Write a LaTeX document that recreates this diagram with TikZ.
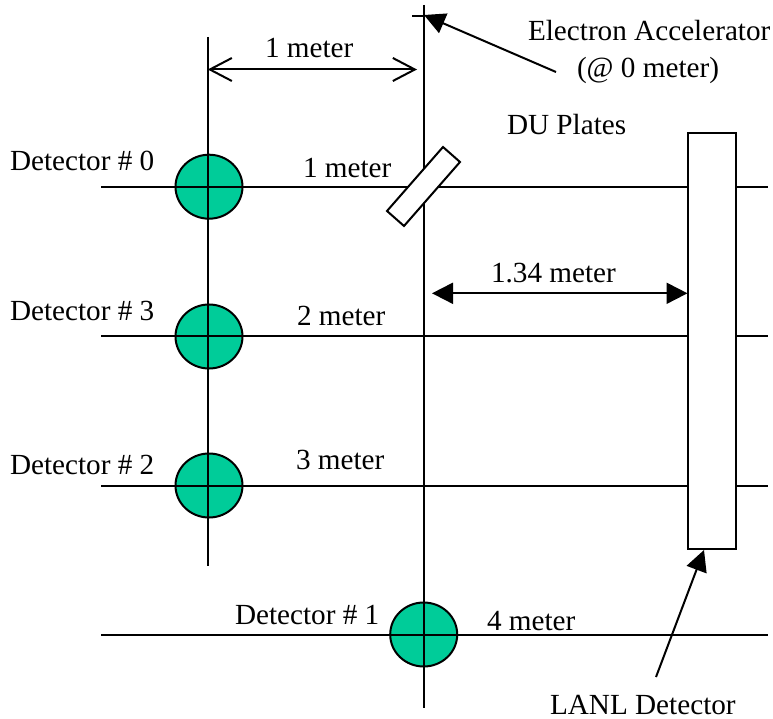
\documentclass[tikz,border=0pt]{standalone}
\usepackage{fontspec}
\setmainfont{Liberation Serif}
\usetikzlibrary{arrows.meta,shapes.geometric}
\definecolor{detgreen}{RGB}{0,204,153}
\tikzset{
  lab/.style={anchor=base west,inner sep=0pt,outer sep=0pt,font=\fontsize{29.2pt}{32pt}\selectfont},
  det/.style={ellipse,draw=black,fill=detgreen,minimum width=67pt,minimum height=64pt,inner sep=0pt},
  openarrow/.style={{Straight Barb[length=22pt,width=23pt,line width=2pt]}-{Straight Barb[length=22pt,width=23pt,line width=2pt]}},
  solidtip/.style={-{Triangle[length=21pt,width=21pt]}},
  soliddouble/.style={{Triangle[length=21pt,width=21pt]}-{Triangle[length=21pt,width=21pt]}}
}
\begin{document}
\begin{tikzpicture}[x=1pt,y=-1pt,line width=2pt]
\useasboundingbox (0,0) rectangle (773,719);
% detectors
\node[det] (d0) at (209,186.7) {};
\node[det] (d3) at (209,336.5) {};
\node[det] (d2) at (209,485.5) {};
\node[det] (d1) at (423.7,634.5) {};
% line ends
\coordinate (vlt) at (207.7,37);
\coordinate (vlb) at (207.7,566);
\coordinate (vct) at (424,5);
\coordinate (vcb) at (424,708);
\coordinate (tick) at (412,15.7);
\coordinate (tickend) at (424,15.7);
\foreach \n/\y in {a/186.7,b/335.8,c/485.5,d/634.9}{
  \coordinate (\n l) at (101,\y);
  \coordinate (\n r) at (768,\y);
  \draw (\n l) -- (\n r);
}
\draw (vlt) -- (vlb);
\draw (vct) -- (vcb);
\draw (tick) -- (tickend);
% LANL box
\node[draw=black,fill=white,minimum width=48pt,minimum height=416pt,inner sep=0pt] (lanl) at (712,341.3) {};
% DU plate
\coordinate (p1) at (443,147);
\coordinate (p2) at (460,162);
\coordinate (p3) at (404,226);
\coordinate (p4) at (387,211);
\draw[fill=white] (p1) -- (p2) -- (p3) -- (p4) -- cycle;
% dimension arrows
\coordinate (m1) at (207.7,69.5);
\coordinate (m2) at (417,69.5);
\draw[openarrow] (m1) -- (m2);
\coordinate (w1) at (432,293.3);
\coordinate (w2) at (687.5,293.3);
\draw[soliddouble] (w1) -- (w2);
% callouts
\coordinate (ea) at (556,72);
\coordinate (eat) at (424,15);
\draw[solidtip] (ea) -- (eat);
\coordinate (ld) at (656,677);
\coordinate (ldt) at (704,550);
\draw[solidtip] (ld) -- (ldt);
% labels
\node[lab] (t1) at (265,58) {1 meter};
\node[lab] (t2) at (303,178) {1 meter};
\node[lab] (t3) at (528,41) {Electron Accelerator};
\node[lab] (t4) at (577,78) {(@ 0 meter)};
\node[lab] (t5) at (507,135) {DU Plates};
\node[lab] (t6) at (10,171) {Detector \# 0};
\node[lab] (t7) at (10,320) {Detector \# 3};
\node[lab] (t8) at (10,474) {Detector \# 2};
\node[lab] (t9) at (235,624) {Detector \# 1};
\node[lab] (t10) at (297,325) {2 meter};
\node[lab] (t11) at (296,469) {3 meter};
\node[lab] (t12) at (487,630) {4 meter};
\node[lab] (t13) at (491,282) {1.34 meter};
\node[lab] (t14) at (550,714) {LANL Detector};
\end{tikzpicture}
\end{document}
